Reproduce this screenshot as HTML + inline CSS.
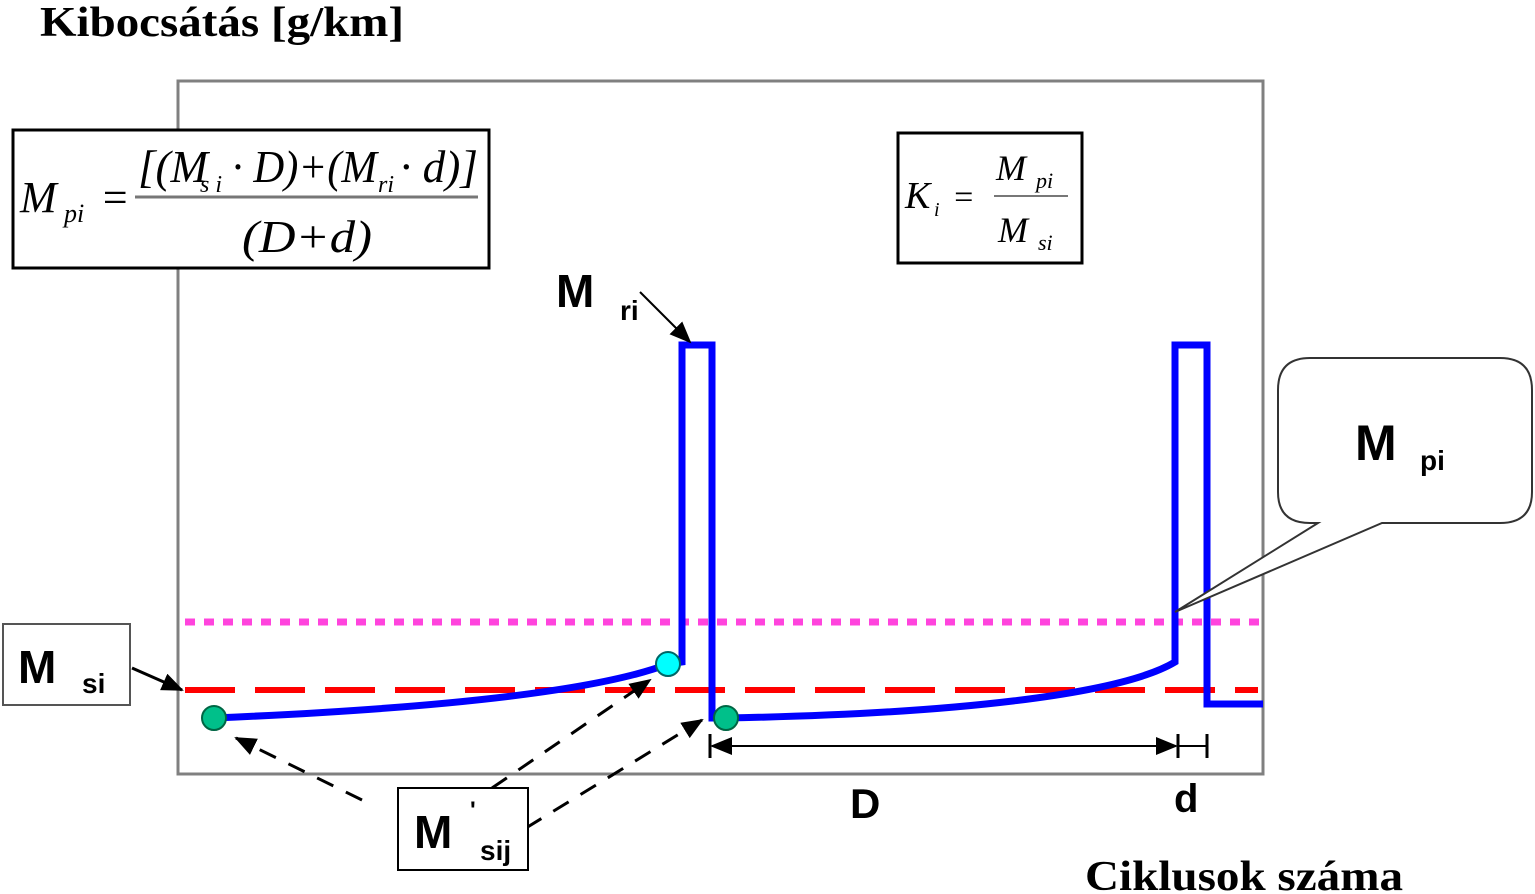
<!DOCTYPE html>
<html><head><meta charset="utf-8"><style>
body{margin:0;background:#fff;}
svg{display:block}
.t{font-family:"Liberation Serif",serif;font-weight:bold}
.s{font-family:"Liberation Sans",sans-serif;font-weight:bold}
.m{font-family:"Liberation Serif",serif;font-style:italic}
</style></head><body>
<svg width="1535" height="894" viewBox="0 0 1535 894" xmlns="http://www.w3.org/2000/svg">
<defs>
<marker id="ah2" markerWidth="22" markerHeight="18" refX="20" refY="9" orient="auto" markerUnits="userSpaceOnUse"><path d="M0,0L22,9L0,18z" fill="#000"/></marker>
</defs>
<text x="40" y="36" class="t" font-size="42" textLength="364" lengthAdjust="spacingAndGlyphs">Kibocsátás [g/km]</text>
<text x="1085" y="890" class="t" font-size="42" textLength="318" lengthAdjust="spacingAndGlyphs">Ciklusok száma</text>
<rect x="178" y="81" width="1085" height="693" fill="none" stroke="#808080" stroke-width="3"/>
<!-- formula box -->
<rect x="13" y="130" width="476" height="138" fill="#fff" stroke="#000" stroke-width="3"/>
<text x="20" y="212" class="m" font-size="44">M</text><text x="64" y="222" class="m" font-size="26">pi</text>
<text x="100" y="212" class="m" font-size="44">=</text>
<line x1="135" y1="197" x2="478" y2="197" stroke="#777" stroke-width="3"/>
<text x="138" y="182" class="m" font-size="46" textLength="70" lengthAdjust="spacingAndGlyphs">[(M</text><text x="200" y="192" class="m" font-size="24">s i</text><text x="232" y="182" class="m" font-size="46" textLength="145" lengthAdjust="spacingAndGlyphs">· D)+(M</text><text x="378" y="192" class="m" font-size="24">ri</text><text x="400" y="182" class="m" font-size="46" textLength="78" lengthAdjust="spacingAndGlyphs">· d)]</text>
<text x="242" y="252" class="m" font-size="46" textLength="130" lengthAdjust="spacingAndGlyphs">(D+d)</text>
<!-- K box -->
<rect x="898" y="133" width="184" height="130" fill="#fff" stroke="#000" stroke-width="3"/>
<text x="905" y="208" class="m" font-size="38">K</text><text x="934" y="216" class="m" font-size="20">i</text>
<text x="952" y="208" class="m" font-size="34">=</text>
<line x1="994" y1="196" x2="1068" y2="196" stroke="#777" stroke-width="2"/>
<text x="996" y="180" class="m" font-size="36">M</text><text x="1036" y="188" class="m" font-size="22">pi</text>
<text x="998" y="242" class="m" font-size="36">M</text><text x="1038" y="250" class="m" font-size="22">si</text>
<!-- lines -->
<line x1="185" y1="622" x2="1263" y2="622" stroke="#ff44dd" stroke-width="7" stroke-dasharray="10 9"/>
<line x1="185" y1="690" x2="1258" y2="690" stroke="#ff0000" stroke-width="6" stroke-dasharray="50 20"/>
<path d="M214,718 C450,708 600,690 668,664 L682,662 L682,345 L712,345 L712,718 L725,718 C950,714 1120,695 1175,662 L1175,345 L1207,345 L1207,704 L1263,704" fill="none" stroke="#0000ff" stroke-width="7"/>
<circle cx="214" cy="718" r="12" fill="#00c08a" stroke="#064" stroke-width="2"/>
<circle cx="668" cy="664" r="12" fill="#00ffff" stroke="#066" stroke-width="2"/>
<circle cx="726" cy="718" r="12" fill="#00c08a" stroke="#064" stroke-width="2"/>
<!-- D/d dimension -->
<line x1="710" y1="734" x2="710" y2="758" stroke="#000" stroke-width="3"/>
<line x1="1178" y1="734" x2="1178" y2="758" stroke="#000" stroke-width="3"/>
<line x1="1207" y1="734" x2="1207" y2="758" stroke="#000" stroke-width="3"/>
<line x1="712" y1="746" x2="1176" y2="746" stroke="#000" stroke-width="2" marker-end="url(#ah2)"/>
<line x1="1176" y1="746" x2="712" y2="746" stroke="#000" stroke-width="2" marker-end="url(#ah2)"/>
<line x1="1178" y1="746" x2="1207" y2="746" stroke="#000" stroke-width="2"/>
<text x="850" y="818" class="s" font-size="42">D</text>
<text x="1174" y="812" class="s" font-size="40">d</text>
<!-- M ri -->
<text x="556" y="307" class="s" font-size="46">M</text><text x="620" y="320" class="s" font-size="28">ri</text>
<line x1="640" y1="292" x2="690" y2="342" stroke="#000" stroke-width="2" marker-end="url(#ah2)"/>
<!-- M si -->
<rect x="3" y="624" width="127" height="81" fill="#fff" stroke="#555" stroke-width="2"/>
<text x="18" y="683" class="s" font-size="46">M</text><text x="82" y="693" class="s" font-size="28">si</text>
<line x1="132" y1="668" x2="182" y2="690" stroke="#000" stroke-width="3" marker-end="url(#ah2)"/>
<!-- M pi callout -->
<path d="M1310,358 L1500,358 Q1532,358 1532,390 L1532,492 Q1532,523 1500,523 L1382,523 L1175,612 L1318,523 L1310,523 Q1278,523 1278,492 L1278,390 Q1278,358 1310,358 Z" fill="#fff" stroke="#333" stroke-width="2"/>
<text x="1355" y="460" class="s" font-size="50">M</text><text x="1420" y="470" class="s" font-size="28">pi</text>
<!-- M' sij -->
<g stroke="#000" stroke-width="3" stroke-dasharray="18 14" fill="none">
<line x1="362" y1="800" x2="236" y2="738" marker-end="url(#ah2)"/>
<line x1="492" y1="788" x2="650" y2="680" marker-end="url(#ah2)"/>
<line x1="526" y1="828" x2="702" y2="720" marker-end="url(#ah2)"/>
</g>
<rect x="398" y="788" width="130" height="82" fill="#fff" stroke="#000" stroke-width="2"/>
<text x="414" y="848" class="s" font-size="46">M</text><text x="470" y="818" class="s" font-size="24">'</text><text x="480" y="860" class="s" font-size="28">sij</text>
</svg>
</body></html>
